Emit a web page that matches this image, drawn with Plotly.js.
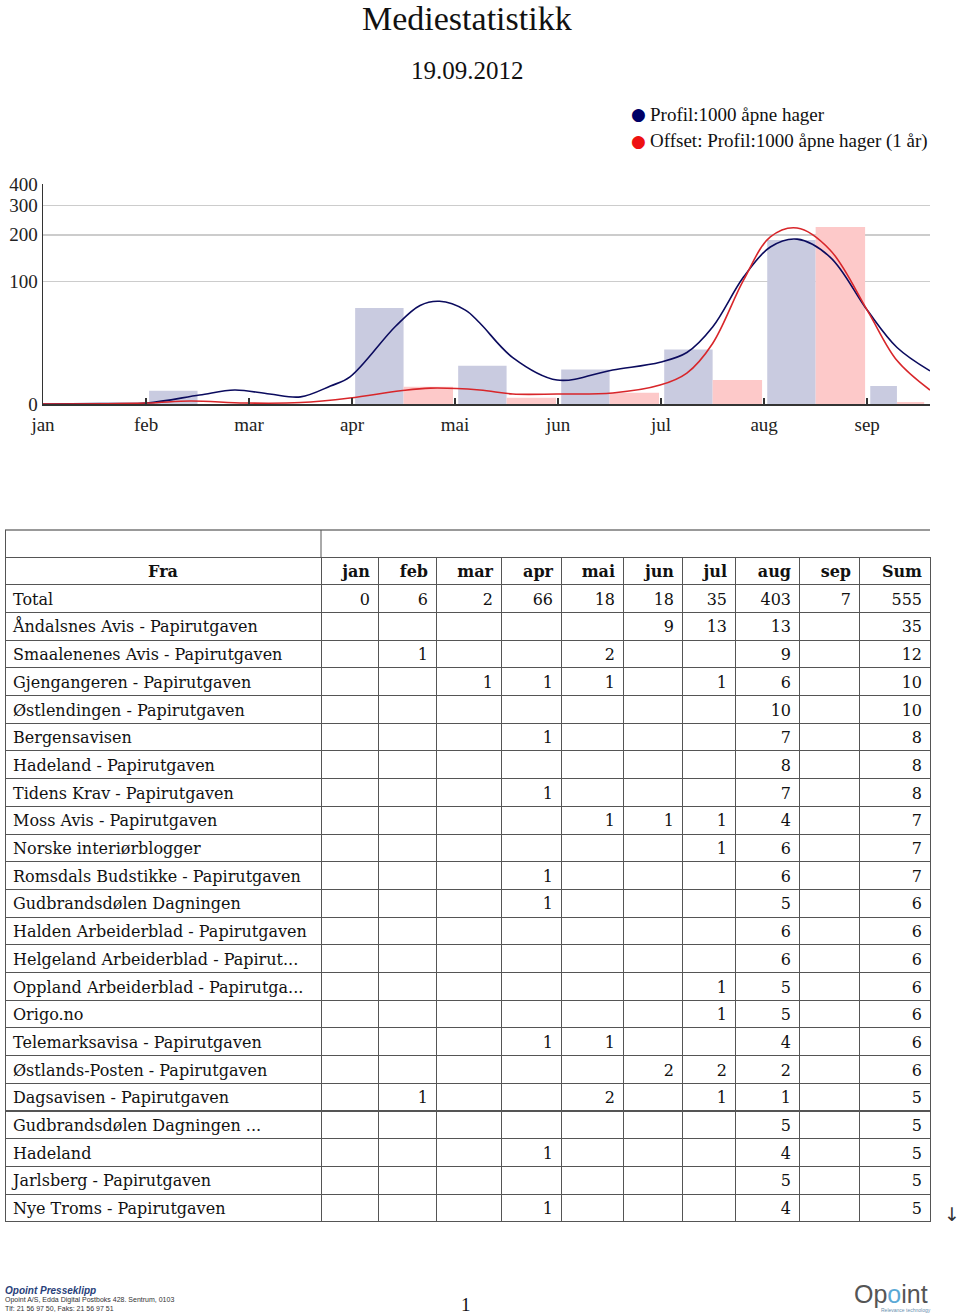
<!DOCTYPE html>
<html>
<head>
<meta charset="utf-8">
<script src="https://cdn.plot.ly/plotly-3.0.1.min.js"></script>
<style>
  html, body { margin: 0; padding: 0; background: #fff; }
  #chart { width: 960px; height: 1314px; }
</style>
</head>
<body>
<div id="chart"></div>
<script>
// months on the x axis
const months = ['jan', 'feb', 'mar', 'apr', 'mai', 'jun', 'jul', 'aug', 'sep'];

// bar heights (axis units)
const currentBars = [0, 5, 0, 64, 17, 15, 27, 186, 7];
const offsetBars = [0, 0, 0, 6.7, 2.3, 4.2, 9.7, 223, 0.7];

// smoothed curves (x in months from 1 jan)
const currentCurveX = [0, 0.55, 1.01, 1.52, 1.86, 2.2, 2.5, 2.79, 2.98, 3.42, 3.66, 3.85, 4.1, 4.24, 4.56, 4.99, 5.53, 5.99, 6.25, 6.5, 6.8, 7.06, 7.32, 7.64, 8.0, 8.29, 8.61];
const currentCurveY = [0, 0.17, 0.35, 3.3, 5.3, 3.7, 2.6, 7.0, 11.2, 45.2, 67, 72, 61.7, 48.4, 21.8, 9.7, 14.7, 19, 25, 44.7, 107, 168, 188, 145, 61.7, 28.4, 14.2];
const offsetCurveX = [0, 1.01, 1.43, 1.96, 2.5, 2.98, 3.47, 3.76, 4.24, 4.56, 4.99, 5.53, 5.99, 6.25, 6.5, 6.8, 7.06, 7.32, 7.64, 8.0, 8.29, 8.61];
const offsetCurveY = [0, 0.35, 1.06, 0.35, 0.5, 2.16, 5.0, 6.1, 5.3, 3.7, 3.7, 4.1, 7.4, 13.1, 31.3, 102, 194, 220, 161, 61.7, 20, 5.3];

const yTicks = [0, 100, 200, 300, 400];
const reportDay = 19;      // 19.09.2012
const daysInSep = 30;

// table
const tableHeader = ['Fra', 'jan', 'feb', 'mar', 'apr', 'mai', 'jun', 'jul', 'aug', 'sep', 'Sum'];
const sources = [
  'Total',
  'Åndalsnes Avis - Papirutgaven',
  'Smaalenenes Avis - Papirutgaven',
  'Gjengangeren - Papirutgaven',
  'Østlendingen - Papirutgaven',
  'Bergensavisen',
  'Hadeland - Papirutgaven',
  'Tidens Krav - Papirutgaven',
  'Moss Avis - Papirutgaven',
  'Norske interiørblogger',
  'Romsdals Budstikke - Papirutgaven',
  'Gudbrandsdølen Dagningen',
  'Halden Arbeiderblad - Papirutgaven',
  'Helgeland Arbeiderblad - Papirut...',
  'Oppland Arbeiderblad - Papirutga...',
  'Origo.no',
  'Telemarksavisa - Papirutgaven',
  'Østlands-Posten - Papirutgaven',
  'Dagsavisen - Papirutgaven',
  'Gudbrandsdølen Dagningen ...',
  'Hadeland',
  'Jarlsberg - Papirutgaven',
  'Nye Troms - Papirutgaven'
];
// per row: jan..sep, Sum ('' = empty cell)
const counts = [
  [0, 6, 2, 66, 18, 18, 35, 403, 7, 555],
  ['', '', '', '', '', 9, 13, 13, '', 35],
  ['', 1, '', '', 2, '', '', 9, '', 12],
  ['', '', 1, 1, 1, '', 1, 6, '', 10],
  ['', '', '', '', '', '', '', 10, '', 10],
  ['', '', '', 1, '', '', '', 7, '', 8],
  ['', '', '', '', '', '', '', 8, '', 8],
  ['', '', '', 1, '', '', '', 7, '', 8],
  ['', '', '', '', 1, 1, 1, 4, '', 7],
  ['', '', '', '', '', '', 1, 6, '', 7],
  ['', '', '', 1, '', '', '', 6, '', 7],
  ['', '', '', 1, '', '', '', 5, '', 6],
  ['', '', '', '', '', '', '', 6, '', 6],
  ['', '', '', '', '', '', '', 6, '', 6],
  ['', '', '', '', '', '', 1, 5, '', 6],
  ['', '', '', '', '', '', 1, 5, '', 6],
  ['', '', '', 1, 1, '', '', 4, '', 6],
  ['', '', '', '', '', 2, 2, 2, '', 6],
  ['', 1, '', '', 2, '', 1, 1, '', 5],
  ['', '', '', '', '', '', '', 5, '', 5],
  ['', '', '', 1, '', '', '', 4, '', 5],
  ['', '', '', '', '', '', '', 5, '', 5],
  ['', '', '', 1, '', '', '', 4, '', 5]
];

const serif = 'Liberation Serif, Times New Roman, serif';
const tableFont = 'DejaVu Serif, serif';
const navy = '#0b0b5e';
const red = '#d8262a';

// log-like scale used by the original chart
const T = v => Math.log(1 + v / 28);

// last month is only partly gone
const span = months.map((m, i) => i === months.length - 1 ? reportDay / daysInSep : 1);

const blueX = [], blueW = [], redX = [], redW = [];
months.forEach((m, i) => {
  const s = span[i] * (i === months.length - 1 ? 0.87 : 1);
  blueX.push(i + 0.03 + s * 0.235);
  blueW.push(s * 0.47);
  redX.push(i + 0.03 + s * 0.47 + s * 0.24);
  redW.push(s * 0.48);
});

const traces = [
  {
    type: 'bar', x: blueX, y: currentBars.map(T), width: blueW,
    marker: { color: '#c9cbe0' }, hoverinfo: 'skip', showlegend: false
  },
  {
    type: 'bar', x: redX, y: offsetBars.map(T), width: redW,
    marker: { color: '#fdc9c9' }, hoverinfo: 'skip', showlegend: false
  },
  {
    type: 'scatter', mode: 'lines', x: currentCurveX, y: currentCurveY.map(T),
    line: { color: navy, width: 1.6, shape: 'spline', smoothing: 1 },
    hoverinfo: 'skip', showlegend: false
  },
  {
    type: 'scatter', mode: 'lines', x: offsetCurveX, y: offsetCurveY.map(T),
    line: { color: red, width: 1.6, shape: 'spline', smoothing: 1 },
    hoverinfo: 'skip', showlegend: false
  }
];

// table columns
const colValues = [sources];
for (let c = 0; c < tableHeader.length - 1; c++) {
  colValues.push(counts.map(r => r[c]));
}
const colWidths = [316, 57, 58, 65, 60, 62, 59, 53, 64, 60, 71];

traces.push({
  type: 'table',
  domain: { x: [5 / 960, 930 / 960], y: [(1314 - 1228) / 1314, (1314 - 557) / 1314] },
  columnwidth: colWidths,
  header: {
    values: tableHeader,
    align: ['center'].concat(tableHeader.slice(1).map(() => 'right')),
    height: 27.7,
    line: { color: '#555', width: 1 },
    fill: { color: '#fff' },
    font: { family: tableFont, size: 16, color: '#111', weight: 'bold' }
  },
  cells: {
    values: colValues,
    align: ['left'].concat(tableHeader.slice(1).map(() => 'right')),
    height: 27.7,
    line: { color: '#555', width: 1 },
    fill: { color: '#fff' },
    font: { family: tableFont, size: 16, color: '#111' }
  }
});

const px = x => x / 960;
const py = y => (1314 - y) / 1314;
const note = (text, x, y, font, xanchor) => ({
  text, x: px(x), y: py(y), xref: 'paper', yref: 'paper', showarrow: false,
  xanchor: xanchor || 'center', yanchor: 'middle', font
});

const layout = {
  width: 960, height: 1314,
  margin: { l: 0, r: 0, t: 0, b: 0 },
  paper_bgcolor: '#fff', plot_bgcolor: '#fff',
  barmode: 'overlay',
  showlegend: false,
  xaxis: {
    domain: [px(43), px(930)],
    range: [0, 8.61],
    tickvals: months.map((m, i) => i),
    ticktext: months,
    ticks: 'inside', ticklen: 6, tickwidth: 1.5, tickcolor: '#333',
    showline: true, linecolor: '#333', linewidth: 1.5,
    showgrid: false, zeroline: false,
    ticklabelstandoff: 3,
    tickfont: { family: serif, size: 19, color: '#222' }
  },
  yaxis: {
    domain: [py(404), py(184)],
    range: [0, T(400)],
    tickvals: yTicks.map(T),
    ticktext: yTicks.map(String),
    ticks: '',
    showline: true, linecolor: '#333', linewidth: 1.5,
    showgrid: true, gridcolor: '#cccccc', gridwidth: 1.5,
    zeroline: false,
    tickfont: { family: serif, size: 19, color: '#222' }
  },
  shapes: [
    { type: 'line', xref: 'paper', yref: 'paper', x0: px(5), x1: px(930), y0: py(530), y1: py(530), line: { color: '#777', width: 1.5 } },
    { type: 'line', xref: 'paper', yref: 'paper', x0: px(5.5), x1: px(5.5), y0: py(530), y1: py(557), line: { color: '#555', width: 1 } },
    { type: 'line', xref: 'paper', yref: 'paper', x0: px(321), x1: px(321), y0: py(530), y1: py(557), line: { color: '#555', width: 1 } }
  ],
  annotations: [
    note('Mediestatistikk', 467, 19, { family: serif, size: 34, color: '#111' }),
    note('19.09.2012', 467, 70, { family: serif, size: 25, color: '#111' }),
    note('●', 638, 114, { family: 'DejaVu Sans', size: 17, color: '#000066' }),
    note('●', 638, 141, { family: 'DejaVu Sans', size: 17, color: '#ee1111' }),
    note('Profil:1000 åpne hager', 648, 114, { family: serif, size: 19, color: '#111' }, 'left'),
    note('Offset: Profil:1000 åpne hager (1 år)', 648, 141, { family: serif, size: 19, color: '#111' }, 'left'),
    note('↓', 952, 1214, { family: 'DejaVu Sans', size: 19, color: '#333' }),
    note('<b><i>Opoint Presseklipp</i></b>', 3, 1290, { family: 'Liberation Sans', size: 10, color: '#2a3f7a' }, 'left'),
    note('Opoint A/S, Edda Digital Postboks 428. Sentrum, 0103', 3, 1300, { family: 'Liberation Sans', size: 7, color: '#333' }, 'left'),
    note('Tlf: 21 56 97 50, Faks: 21 56 97 51', 3, 1308, { family: 'Liberation Sans', size: 7, color: '#333' }, 'left'),
    note('1', 466, 1304, { family: serif, size: 19, color: '#111' }),
    note('Op<span style="color:#5aa9d6">o</span>int', 891, 1294, { family: 'Liberation Sans', size: 25, color: '#555' }),
    note('Relevance technology', 906, 1310, { family: 'Liberation Sans', size: 5, color: '#6a8fb0' })
  ]
};

Plotly.newPlot('chart', traces, layout, { staticPlot: true });
</script>
</body>
</html>
